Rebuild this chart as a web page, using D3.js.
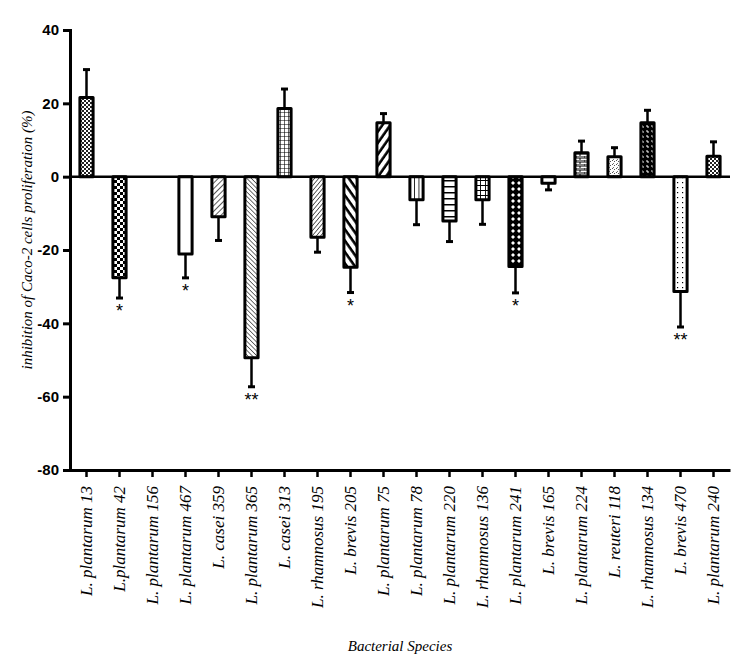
<!DOCTYPE html>
<html>
<head>
<meta charset="utf-8">
<script src="https://cdn.jsdelivr.net/npm/d3@7"></script>
<style>
  html, body { margin: 0; padding: 0; background: #fff; }
  svg { display: block; }
  .serif { font-family: "Liberation Serif", "Times New Roman", serif; font-style: italic; }
  .sans { font-family: "Liberation Sans", Arial, sans-serif; }
</style>
</head>
<body>
<svg id="chart" width="750" height="668"></svg>
<script>
// ---- data ----
const categories = [
  "L. plantarum 13", "L.plantarum 42", "L. plantarum 156", "L. plantarum 467",
  "L. casei 359", "L. plantarum 365", "L. casei 313", "L. rhamnosus 195",
  "L. brevis 205", "L. plantarum 75", "L. plantarum 78", "L. plantarum 220",
  "L. rhamnosus 136", "L. plantarum 241", "L. brevis 165", "L. plantarum 224",
  "L. reuteri 118", "L. rhamnosus 134", "L. brevis 470", "L. plantarum 240"
];
const values = [21.6, -27.6, 0, -21.1, -10.9, -49.4, 18.6, -16.5, -24.7, 14.7,
                -6.3, -12.1, -6.3, -24.5, -1.8, 6.5, 5.4, 14.7, -31.3, 5.6];
const errors = [7.6, 5.5, 0, 6.5, 6.5, 7.9, 5.3, 4.1, 6.9, 2.5,
                6.8, 5.6, 6.7, 7.2, 1.8, 3.2, 2.5, 3.4, 9.7, 3.9];
const significance = ["", "*", "", "*", "", "**", "", "", "*", "",
                      "", "", "", "*", "", "", "", "", "**", ""];
const yTicks = [40, 20, 0, -20, -40, -60, -80];
const yTitle = "inhibition of Caco-2 cells proliferation (%)";
const xTitle = "Bacterial Species";

// pattern id per bar (style only)
const barPatterns = ["pChkFine", "pChk", "pWhite", "pWhite", "pDiagR", "pDiagLDense",
  "pGrid", "pDiagRDense", "pDiagLThick", "pDiagRThick", "pVert", "pHoriz",
  "pGridBig", "pDiamond", "pWhite", "pBrick", "pWave", "pZig", "pDots", "pChkFine"];

// ---- drawing ----
const svg = d3.select("#chart");
const defs = svg.append("defs");

function pat(id, w, h, build, transform) {
  const p = defs.append("pattern").attr("id", id)
    .attr("patternUnits", "userSpaceOnUse").attr("width", w).attr("height", h);
  if (transform) p.attr("patternTransform", transform);
  p.append("rect").attr("width", w).attr("height", h).attr("fill", "#fff");
  build(p);
}
pat("pWhite", 4, 4, p => {});
pat("pChkFine", 4, 4, p => {
  p.append("rect").attr("x", 0).attr("y", 0).attr("width", 2).attr("height", 2).attr("fill", "#222");
  p.append("rect").attr("x", 2).attr("y", 2).attr("width", 2).attr("height", 2).attr("fill", "#222");
});
pat("pChk", 6, 6, p => {
  p.append("rect").attr("x", 0).attr("y", 0).attr("width", 3).attr("height", 3).attr("fill", "#000");
  p.append("rect").attr("x", 3).attr("y", 3).attr("width", 3).attr("height", 3).attr("fill", "#000");
});
pat("pDiagR", 4, 4, p => {
  p.append("line").attr("x1", 0).attr("y1", 0).attr("x2", 0).attr("y2", 4).attr("stroke", "#000").attr("stroke-width", 1.3);
}, "rotate(45)");
pat("pDiagRDense", 3.2, 4, p => {
  p.append("line").attr("x1", 0).attr("y1", 0).attr("x2", 0).attr("y2", 4).attr("stroke", "#000").attr("stroke-width", 1.2);
}, "rotate(40)");
pat("pDiagLDense", 3.2, 4, p => {
  p.append("line").attr("x1", 0).attr("y1", 0).attr("x2", 0).attr("y2", 4).attr("stroke", "#000").attr("stroke-width", 1.1);
}, "rotate(-45)");
pat("pDiagLThick", 6.5, 4, p => {
  p.append("line").attr("x1", 1.5).attr("y1", 0).attr("x2", 1.5).attr("y2", 4).attr("stroke", "#000").attr("stroke-width", 2.6);
}, "rotate(-35)");
pat("pDiagRThick", 6.5, 4, p => {
  p.append("line").attr("x1", 1.5).attr("y1", 0).attr("x2", 1.5).attr("y2", 4).attr("stroke", "#000").attr("stroke-width", 2.6);
}, "rotate(35)");
pat("pGrid", 4, 4, p => {
  p.append("path").attr("d", "M0,0H4M0,0V4").attr("stroke", "#000").attr("stroke-width", 1.2).attr("fill", "none");
});
pat("pGridBig", 5, 5, p => {
  p.append("path").attr("d", "M0,0H5M0,0V5").attr("stroke", "#000").attr("stroke-width", 1.8).attr("fill", "none");
});
pat("pVert", 4.5, 4, p => {
  p.append("line").attr("x1", 0).attr("y1", 0).attr("x2", 0).attr("y2", 4).attr("stroke", "#000").attr("stroke-width", 1.6);
});
pat("pHoriz", 4, 6, p => {
  p.append("line").attr("x1", 0).attr("y1", 0).attr("x2", 4).attr("y2", 0).attr("stroke", "#000").attr("stroke-width", 3);
});
pat("pDiamond", 6, 6, p => {
  p.select("rect").attr("fill", "#000");
  p.append("path").attr("d", "M3,1L5,3L3,5L1,3Z").attr("fill", "#fff");
});
pat("pBrick", 8, 4, p => {
  p.append("path").attr("d", "M0,0H8M0,2H8M0,0V2M4,2V4").attr("stroke", "#000").attr("stroke-width", 1).attr("fill", "none");
});
pat("pWave", 4, 4, p => {
  p.append("rect").attr("x", 0).attr("y", 0).attr("width", 1).attr("height", 1).attr("fill", "#555");
  p.append("rect").attr("x", 2).attr("y", 1).attr("width", 1).attr("height", 1).attr("fill", "#555");
  p.append("rect").attr("x", 1).attr("y", 3).attr("width", 1).attr("height", 1).attr("fill", "#777");
});
pat("pZig", 5, 5, p => {
  p.select("rect").attr("fill", "#000");
  p.append("path").attr("d", "M1,1H3V3").attr("stroke", "#fff").attr("stroke-width", 1).attr("fill", "none");
});
pat("pDots", 5, 5, p => {
  p.append("rect").attr("x", 2).attr("y", 2).attr("width", 1.2).attr("height", 1.2).attr("fill", "#000");
});

const x = d3.scaleBand().domain(categories).range([70, 730]).paddingInner(0.6).paddingOuter(0.3);
const y = d3.scaleLinear().domain([-80, 40]).range([470, 30]);

const data = categories.map((c, i) => ({ c, v: values[i], e: errors[i], s: significance[i], p: barPatterns[i] }));

// error bars (behind bars)
const eb = svg.append("g");
data.filter(d => d.v !== 0).forEach(d => {
  const cx = x(d.c) + x.bandwidth() / 2;
  const end = d.v >= 0 ? d.v + d.e : d.v - d.e;
  eb.append("line").attr("x1", cx).attr("x2", cx).attr("y1", y(d.v)).attr("y2", y(end))
    .attr("stroke", "#000").attr("stroke-width", 2.5);
  eb.append("line").attr("x1", cx - 3.5).attr("x2", cx + 3.5).attr("y1", y(end)).attr("y2", y(end))
    .attr("stroke", "#000").attr("stroke-width", 3);
});

// bars
svg.append("g").selectAll("rect").data(data.filter(d => d.v !== 0)).join("rect")
  .attr("x", d => x(d.c))
  .attr("width", x.bandwidth())
  .attr("y", d => y(Math.max(0, d.v)))
  .attr("height", d => Math.abs(y(d.v) - y(0)))
  .attr("fill", d => `url(#${d.p})`)
  .attr("stroke", "#000").attr("stroke-width", 3)
  .attr("stroke-linejoin", "round");

// significance stars
svg.append("g").selectAll("text").data(data.filter(d => d.s)).join("text")
  .attr("class", "sans")
  .attr("x", d => x(d.c) + x.bandwidth() / 2)
  .attr("y", d => y(d.v - d.e) + 19)
  .attr("text-anchor", "middle")
  .style("font-size", "18px")
  .text(d => d.s);

// zero line
svg.append("line").attr("x1", 70).attr("x2", 730).attr("y1", y(0)).attr("y2", y(0))
  .attr("stroke", "#000").attr("stroke-width", 2.5);

// y axis
const yAxis = svg.append("g").attr("transform", "translate(70,0)")
  .call(d3.axisLeft(y).tickValues(yTicks).tickSize(7).tickPadding(4).tickFormat(d => String(d)));
yAxis.select(".domain").attr("stroke-width", 3);
yAxis.selectAll(".tick line").attr("stroke-width", 3);
yAxis.selectAll("text").attr("class", "sans")
  .style("font-weight", "bold").style("font-size", "15px").attr("fill", "#000");

// x axis
const xAxis = svg.append("g").attr("transform", `translate(0,${y(-80)})`)
  .call(d3.axisBottom(x).tickSize(7).tickSizeOuter(0));
xAxis.select(".domain").attr("stroke-width", 3);
xAxis.selectAll(".tick line").attr("stroke-width", 2.5);
xAxis.selectAll("text").attr("class", "serif")
  .style("font-size", "17px").attr("fill", "#000")
  .attr("transform", "rotate(-90)")
  .attr("text-anchor", "end")
  .attr("x", -16).attr("y", 0).attr("dy", "0.32em");

// titles
svg.append("text").attr("class", "serif")
  .attr("transform", `translate(32,240) rotate(-90)`)
  .attr("text-anchor", "middle")
  .style("font-size", "15px")
  .text(yTitle);
svg.append("text").attr("class", "serif")
  .attr("x", 400).attr("y", 651)
  .attr("text-anchor", "middle")
  .style("font-size", "15px")
  .text(xTitle);
</script>
</body>
</html>
